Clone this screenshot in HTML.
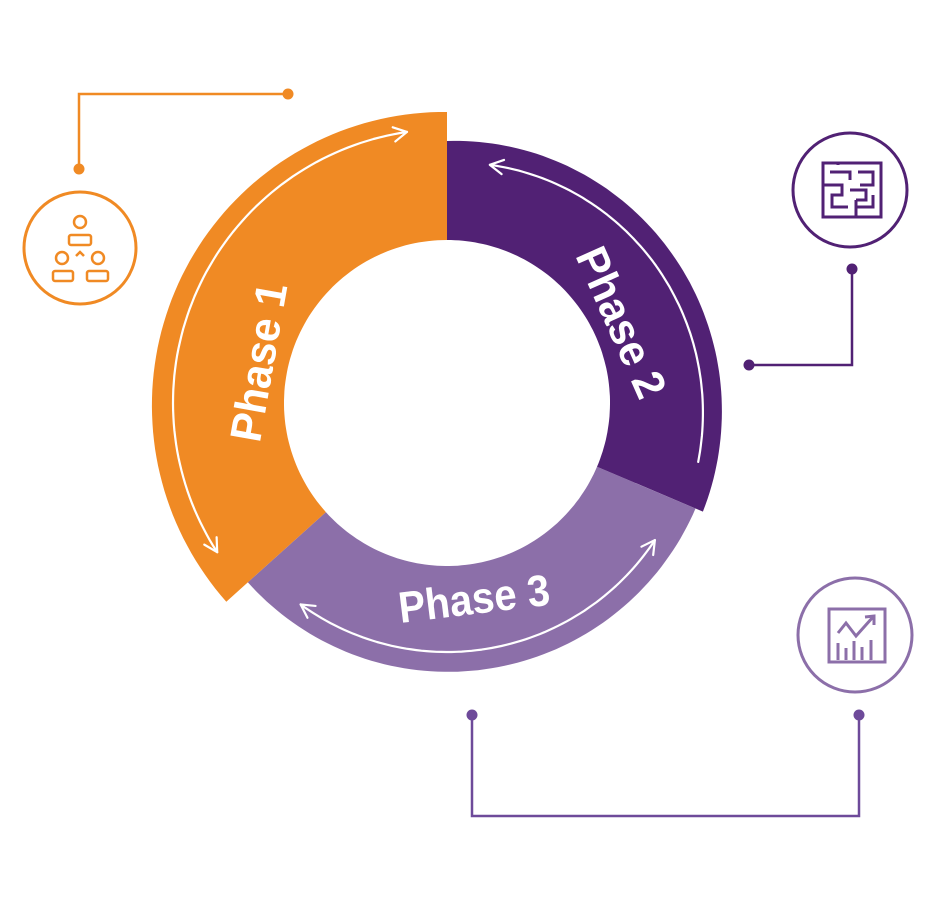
<!DOCTYPE html>
<html><head><meta charset="utf-8"><style>
html,body{margin:0;padding:0;background:#fff;}
svg{display:block;}
text{font-family:"Liberation Sans",sans-serif;font-weight:bold;fill:#fff;}
</style></head><body>
<svg id="s" width="931" height="913" viewBox="0 0 931 913" xmlns="http://www.w3.org/2000/svg">
<g id="rings"></g>
<g id="arrows" fill="none" stroke="#fff" stroke-width="2.2" stroke-linecap="round" stroke-linejoin="round"></g>
<text transform="translate(258,362) rotate(-80)" text-anchor="middle" dy="0.36em" font-size="44" textLength="160" lengthAdjust="spacingAndGlyphs">Phase 1</text>
<text transform="translate(622,322) rotate(66)" text-anchor="middle" dy="0.36em" font-size="44" textLength="160" lengthAdjust="spacingAndGlyphs">Phase 2</text>
<text transform="translate(474,598) rotate(-7)" text-anchor="middle" dy="0.36em" font-size="44" textLength="152" lengthAdjust="spacingAndGlyphs">Phase 3</text>

<!-- orange icon + connector -->
<g fill="none" stroke="#f08a24" stroke-width="2.5">
<polyline points="79,168 79,94 288,94"/>
<circle cx="80" cy="248" r="56" stroke-width="3"/>
<circle cx="80" cy="222" r="6"/>
<rect x="69" y="235" width="22" height="10" rx="2"/>
<circle cx="62" cy="258" r="6"/>
<circle cx="98" cy="258" r="6"/>
<polyline points="76,256 80,252 84,256"/>
<rect x="53" y="271" width="20" height="10" rx="2"/>
<rect x="87" y="271" width="21" height="10" rx="2"/>
</g>
<circle cx="79" cy="169" r="5.5" fill="#f08a24"/>
<circle cx="288" cy="94" r="5.5" fill="#f08a24"/>

<!-- dark purple icon + connector -->
<g fill="none" stroke="#512174" stroke-width="3">
<polyline points="852,269 852,365 749,365" stroke-width="2.5"/>
<circle cx="850" cy="190" r="57" stroke-width="3"/>
<rect x="823" y="163" width="58" height="54"/>
<polyline points="838,163 838,165"/>
<polyline points="830,172 850,172 850,180"/>
<polyline points="858,172 873,172 873,185 860,185"/>
<polyline points="823,185 842,185 842,195 832,195 832,207 848,207"/>
<polyline points="850,190 866,190 866,200 856,200"/>
<polyline points="856,207 873,207 873,195"/>
<polyline points="856,200 856,217"/>
</g>
<circle cx="852" cy="269" r="5.5" fill="#512174"/>
<circle cx="749" cy="365" r="5.5" fill="#512174"/>

<!-- light purple icon + connector -->
<g fill="none" stroke="#8c6fa9" stroke-width="3">
<circle cx="855" cy="635" r="57"/>
<rect x="829" y="609" width="56" height="53"/>
<polyline points="838,633 846,623 856,636 873,617"/>
<polyline points="865,617 874,616 874,625"/>
<line x1="838" y1="643" x2="838" y2="660"/>
<line x1="846" y1="648" x2="846" y2="660"/>
<line x1="854" y1="641" x2="854" y2="660"/>
<line x1="862" y1="647" x2="862" y2="660"/>
<line x1="871" y1="640" x2="871" y2="660"/>
</g>
<g fill="none" stroke="#6e4a9a" stroke-width="2.5">
<polyline points="472,715 472,816 859,816 859,715"/>
</g>
<circle cx="472" cy="715" r="5.5" fill="#6e4a9a"/>
<circle cx="859" cy="715" r="5.5" fill="#6e4a9a"/>
</svg>
<script>
var cx=447,cy=403,ri=163;
function P(a,r){var t=a*Math.PI/180;return [cx+r*Math.cos(t),cy+r*Math.sin(t)];}
function ring(a0,a1,r0,r1,col){
  var d="",n=80,i,p;
  for(i=0;i<=n;i++){var a=a0+(a1-a0)*i/n,r=r0+(r1-r0)*i/n;p=P(a,r);d+=(i?"L":"M")+p[0].toFixed(1)+","+p[1].toFixed(1);}
  for(i=n;i>=0;i--){var a=a0+(a1-a0)*i/n;p=P(a,ri);d+="L"+p[0].toFixed(1)+","+p[1].toFixed(1);}
  return '<path d="'+d+'Z" fill="'+col+'"/>';
}
function arc(a0,a1,r0,r1,h0,h1){
  var d="",n=80,i,p,pts=[];
  for(i=0;i<=n;i++){var a=a0+(a1-a0)*i/n,r=r0+(r1-r0)*i/n;p=P(a,r);pts.push(p);d+=(i?"L":"M")+p[0].toFixed(1)+","+p[1].toFixed(1);}
  var out='<path d="'+d+'"/>';
  function head(tip,prev){var dx=tip[0]-prev[0],dy=tip[1]-prev[1],L=Math.hypot(dx,dy);dx/=L;dy/=L;
    var s=15,c=Math.cos(0.5),sn=Math.sin(0.5);
    var ax=tip[0]-s*(dx*c-dy*sn),ay=tip[1]-s*(dy*c+dx*sn);
    var bx=tip[0]-s*(dx*c+dy*sn),by=tip[1]-s*(dy*c-dx*sn);
    return '<polyline points="'+ax+','+ay+' '+tip[0]+','+tip[1]+' '+bx+','+by+'"/>';}
  if(h0)out+=head(pts[0],pts[3]);
  if(h1)out+=head(pts[n],pts[n-3]);
  return out;
}
document.getElementById('rings').innerHTML=
  ring(23,138,270,268,'#8c6fa9')+
  ring(-90,23,262,278,'#512174')+
  ring(138,270,297,291,'#f08a24');
document.getElementById('arrows').innerHTML=
  arc(147,261.6,274,274,true,true)+
  arc(-79.8,13.2,242,258,true,false)+
  arc(33.4,126,249,249,true,true);
</script>
</body></html>
